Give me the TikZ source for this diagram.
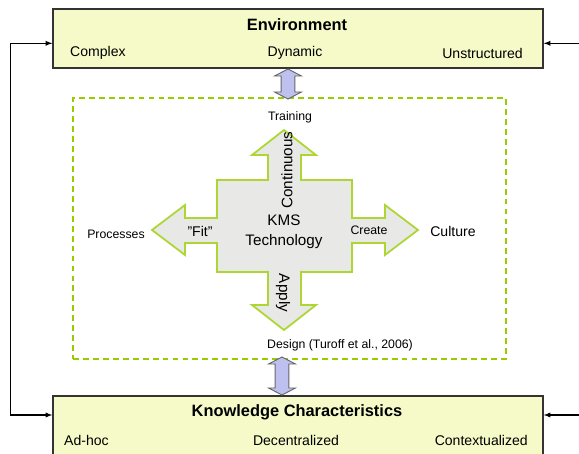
\documentclass[tikz,border=0pt]{standalone}
\usepackage{fontspec}
\setmainfont{Liberation Sans}
\usepackage{tikz}
\usetikzlibrary{shapes,arrows, positioning}
\definecolor{boxfill}{RGB}{245,250,200}
\definecolor{kmsgreen}{RGB}{153,204,0}
\definecolor{lavender}{RGB}{190,192,240}
\definecolor{crossfill}{RGB}{232,232,230}
\tikzstyle{mainbox} = [rectangle, draw=black!80, fill=boxfill, line width=1.1pt, minimum width=14.7cm, inner sep=0pt]
\tikzstyle{frame} = [rectangle, draw=kmsgreen, dash pattern=on 5pt off 3.5pt, line width=1pt, inner sep=0pt]
\tikzstyle{cross} = [draw=kmsgreen!80, fill=crossfill, line width=1.5pt, line join=miter]
\tikzstyle{dbl} = [double arrow, draw=black!60, fill=lavender, rotate=90, line width=0.8pt, inner xsep=0pt, inner ysep=0.19cm, double arrow head extend=0.2cm, double arrow tip angle=125]
\tikzstyle{ttl} = [inner sep=0pt, font=\fontsize{14}{16}\selectfont\bfseries]
\tikzstyle{lbl} = [inner sep=0pt, font=\fontsize{12}{14}\selectfont]
\tikzstyle{slbl} = [inner sep=0pt, font=\fontsize{10.5}{12}\selectfont]
\tikzstyle{blbl} = [inner sep=0pt, font=\fontsize{13}{17}\selectfont]
\tikzstyle{line} = [draw, line width=1pt, latex-latex]

\begin{document}
\begin{tikzpicture}[x=0.03cm, y=-0.03cm]
			\path [use as bounding box] (0,0) rectangle (579,454);
			\clip (0,0) rectangle (579,454);
			
			% outer boxes
			\node [mainbox, minimum height=1.77cm] (env) at (298,38.5) {};
			\node [ttl] (envttl) at (297,25) {Environment};
			\node [lbl, anchor=west] (complex) at (70,53) {Complex};
			\node [lbl] (dynamic) at (295,53) {Dynamic};
			\node [lbl, anchor=east] (unstr) at (523,53) {Unstructured};
			
			\node [mainbox, minimum height=2.52cm] (kc) at (298,438) {};
			\node [ttl] (kcttl) at (297,412) {Knowledge Characteristics};
			\node [lbl, anchor=west] (adhoc) at (64,440) {Ad-hoc};
			\node [lbl] (decentr) at (296,440) {Decentralized};
			\node [lbl, anchor=east] (context) at (528,440) {Contextualized};
			
			% KMS frame
			\node [frame, minimum width=12.99cm, minimum height=7.83cm] (kms) at (289.5,228.5) {};
			\node [dbl, minimum height=0.9cm] (uparr) at (288,84) {};
			\node [dbl, minimum height=1.14cm] (downarr) at (282,376) {};
			
			\filldraw [cross] (284,130) -- (316,155) -- (301,155) -- (301,180) -- (352,180)
				-- (352,218) -- (385,218) -- (385,205) -- (418,230) -- (385,255) -- (385,243)
				-- (352,243) -- (352,272) -- (301,272) -- (301,305) -- (316,305) -- (284,330)
				-- (252,305) -- (268,305) -- (268,272) -- (217,272) -- (217,243) -- (185,243)
				-- (185,255) -- (152,230) -- (185,205) -- (185,218) -- (217,218) -- (217,180)
				-- (268,180) -- (268,155) -- (252,155) -- cycle;
			
			\node [slbl] (training) at (290,117) {Training};
			\node [blbl, rotate=90] (contin) at (287,170) {Continuous};
			\node [blbl, align=center] (tech) at (284,232) {KMS\\Technology};
			\node [lbl] (fit) at (200,231) {"Fit"};
			\node [slbl] (create) at (369,230) {Create};
			\node [slbl] (proc) at (116,234) {Processes};
			\node [lbl] (culture) at (453,231) {Culture};
			\node [blbl, rotate=-90] (apply) at (283,293) {Apply};
			\node [slbl] (design) at (340,345) {Design (Turoff et al., 2006)};
			
			% feedback
			\path [line] ([yshift=-0.144cm]env.west) -- ++(-1.25cm,0) |- ([yshift=0.69cm]kc.west);
			\path [line] ([yshift=-0.144cm]env.east) -- ++(1.5cm,0) |- ([yshift=0.69cm]kc.east);
		\end{tikzpicture}
\end{document}
